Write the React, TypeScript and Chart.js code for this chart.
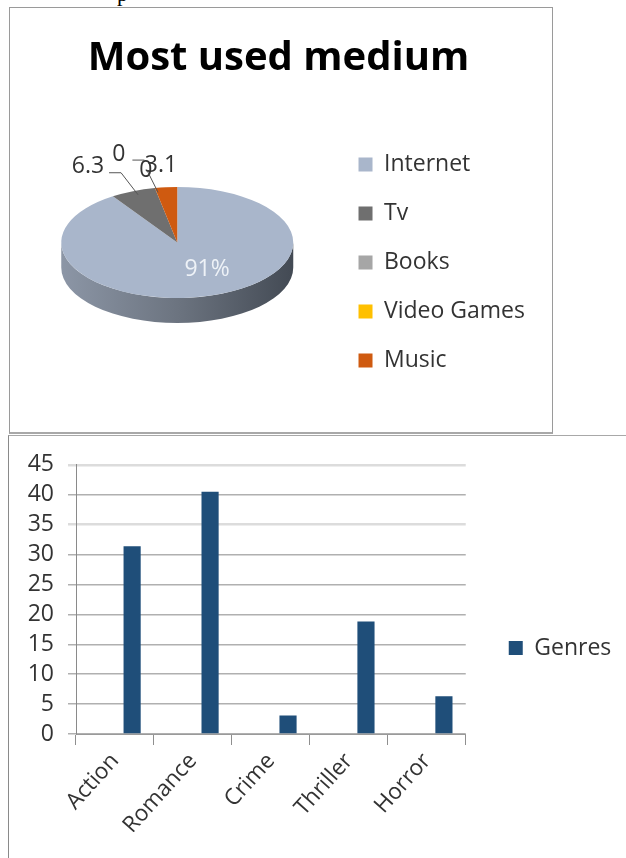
import React, { useEffect, useRef } from "react";
import { Chart, registerables } from "chart.js";

Chart.register(...registerables);

const mediumLabels = ["Internet", "Tv", "Books", "Video Games", "Music"];
const mediumValues = [91, 6.3, 0, 0, 3.1];
const mediumText = ["91%", "6.3", "0", "0", "3.1"];
const mediumColors = ["#a9b6cb", "#6f6f6f", "#a6a6a6", "#ffc000", "#cf5a10"];

const genreLabels = ["Action", "Romance", "Crime", "Thriller", "Horror"];
const genreValues = [31.4, 40.5, 3.1, 18.8, 6.3];
const emptyValues: (number | null)[] = [null, null, null, null, null];

const FONT = "'Open Sans', sans-serif";
const SQUASH = 0.478;
const PIE_CENTER_Y = 234.5; // canvas px
const DEPTH = 25;

const pie3d = {
  id: "pie3d",
  beforeDatasetsDraw(chart: any) {
    const arc = chart.getDatasetMeta(0).data[0];
    const ctx = chart.ctx;
    const { x, y, outerRadius: r } = arc;
    const cy = PIE_CENTER_Y;
    const ry = r * SQUASH;
    const g = ctx.createLinearGradient(x - r, 0, x + r, 0);
    g.addColorStop(0, "#8c96a6");
    g.addColorStop(0.5, "#6c7480");
    g.addColorStop(1, "#434a54");
    ctx.save();
    ctx.fillStyle = g;
    ctx.beginPath();
    ctx.ellipse(x, cy, r, ry, 0, 0, Math.PI);
    ctx.ellipse(x, cy + DEPTH, r, ry, 0, Math.PI, 0, true);
    ctx.closePath();
    ctx.fill();
    ctx.restore();
    ctx.save();
    ctx.translate(x, cy);
    ctx.scale(1, SQUASH);
    ctx.translate(-x, -y);
  },
  afterDatasetsDraw(chart: any) {
    const ctx = chart.ctx;
    ctx.restore();
    const arcs = chart.getDatasetMeta(0).data;
    const { x, y } = arcs[0];
    const cy = PIE_CENTER_Y;
    const rim = (a: any) => {
      const mid = (a.startAngle + a.endAngle) / 2;
      return { x: x + a.outerRadius * Math.cos(mid), y: cy + a.outerRadius * SQUASH * Math.sin(mid) };
    };
    ctx.save();
    ctx.font = `23px ${FONT}`;
    ctx.textAlign = "center";
    ctx.textBaseline = "middle";
    const tp = arcs[0].tooltipPosition();
    ctx.fillStyle = "#eef2f7";
    ctx.fillText(mediumText[0], tp.x + 13, cy + (tp.y - y) * SQUASH + 0.5);
    const offs = [null, [-45, -24.5], [-36, -33.5], [-9, -17.5], [-5, -21.5]];
    const leaders: any[] = [
      null,
      [[5, 3.5], [-12, -18.5], [-24, -18.5]],
      [[-22.5, -28], [-10.5, -28]],
      null,
      [[-8, 5], [-19, -17]],
    ];
    ctx.strokeStyle = "#555";
    ctx.lineWidth = 1;
    ctx.fillStyle = "#333";
    arcs.forEach((a: any, i: number) => {
      if (i === 0) return;
      const r0 = rim(a);
      const o = offs[i] as number[];
      ctx.fillText(mediumText[i], r0.x + o[0], r0.y + o[1]);
      const l = leaders[i];
      if (!l) return;
      ctx.beginPath();
      l.forEach((q: number[], j: number) => {
        if (j === 0) ctx.moveTo(r0.x + q[0], r0.y + q[1]);
        else ctx.lineTo(r0.x + q[0], r0.y + q[1]);
      });
      ctx.stroke();
    });
    ctx.restore();
  },
};

export default function App() {
  const pieRef = useRef<HTMLCanvasElement>(null);
  const barRef = useRef<HTMLCanvasElement>(null);

  useEffect(() => {
    document.body.style.margin = "0";
    document.body.style.background = "#fff";
    const pie = new Chart(pieRef.current!, {
      type: "pie",
      data: {
        labels: mediumLabels,
        datasets: [
          {
            data: mediumValues,
            backgroundColor: mediumColors,
            borderWidth: 0,
            radius: 116,
          },
        ],
      },
      plugins: [pie3d],
      options: {
        animation: false,
        responsive: false,
        layout: { padding: { left: 12, right: 16, top: 0, bottom: 0 } },
        plugins: {
          tooltip: { enabled: false },
          title: {
            display: true,
            text: "Most used medium",
            color: "#000",
            font: { family: FONT, size: 40, weight: "bold" },
            padding: { top: 27, bottom: 10 },
          },
          legend: {
            position: "right",
            fullSize: false,
            labels: {
              font: { family: FONT, size: 23 },
              color: "#333",
              boxWidth: 14,
              boxHeight: 14,
              padding: 26,
            },
          },
        },
      },
    });

    const bar = new Chart(barRef.current!, {
      type: "bar",
      data: {
        labels: genreLabels,
        datasets: [
          { label: "", data: emptyValues, backgroundColor: "transparent" },
          { label: "", data: emptyValues, backgroundColor: "transparent" },
          { label: "Genres", data: genreValues, backgroundColor: "#1f4e79", borderWidth: 0 },
        ],
      },
      options: {
        animation: false,
        responsive: false,
        layout: { padding: { top: 27, right: 8, left: 0, bottom: 26 } },
        datasets: { bar: { categoryPercentage: 0.66, barPercentage: 1 } },
        scales: {
          x: {
            grid: { drawOnChartArea: false, drawTicks: true, tickLength: 11, color: "#8f8f8f" },
            border: { color: "#9a9a9a" },
            ticks: {
              font: { family: FONT, size: 22.5 },
              color: "#333",
              maxRotation: 48,
              minRotation: 48,
              padding: 3,
            },
            afterFit: (s: any) => {
              s.height = 98;
            },
          },
          y: {
            min: 0,
            max: 45,
            grid: {
              tickLength: 8,
              color: (c: any) => (c.tick.value === 45 || c.tick.value === 35 ? "#dcdcdc" : "#b0b0b0"),
              lineWidth: (c: any) => (c.tick.value === 45 || c.tick.value === 35 ? 2.5 : 1.5),
            },
            border: { color: "#8a8a8a" },
            ticks: {
              stepSize: 5,
              autoSkip: false,
              font: { family: FONT, size: 23 },
              color: "#333",
              padding: 14,
            },
            afterFit: (s: any) => {
              s.width = 67;
            },
          },
        },
        plugins: {
          tooltip: { enabled: false },
          legend: {
            position: "right",
            labels: {
              font: { family: FONT, size: 23 },
              color: "#333",
              boxWidth: 14,
              boxHeight: 14,
              padding: 43,
              filter: (item: any) => item.text !== "",
            },
          },
        },
      },
    });

    return () => {
      pie.destroy();
      bar.destroy();
    };
  }, []);

  return (
    <div style={{ position: "relative", width: 626, height: 858, overflow: "hidden", background: "#fff" }}>
      <div
        style={{
          position: "absolute",
          left: 117,
          top: -18,
          fontFamily: "'Liberation Serif', serif",
          fontSize: 22,
          lineHeight: "24px",
          color: "#000",
        }}
      >
        p
      </div>
      <div style={{ position: "absolute", left: 9, top: 7, width: 544, height: 427, border: "1px solid #9a9a9a", borderBottom: "2px solid #a8a8a8", boxSizing: "border-box" }} />
      <div style={{ position: "absolute", left: 8, top: 435, width: 618, height: 423, borderLeft: "1px solid #8a8a8a", borderTop: "1px solid #a8a8a8", boxSizing: "border-box" }} />
      <canvas ref={pieRef} width={541} height={424} style={{ position: "absolute", left: 10, top: 8 }} />
      <canvas ref={barRef} width={617} height={421} style={{ position: "absolute", left: 9, top: 437 }} />
    </div>
  );
}
